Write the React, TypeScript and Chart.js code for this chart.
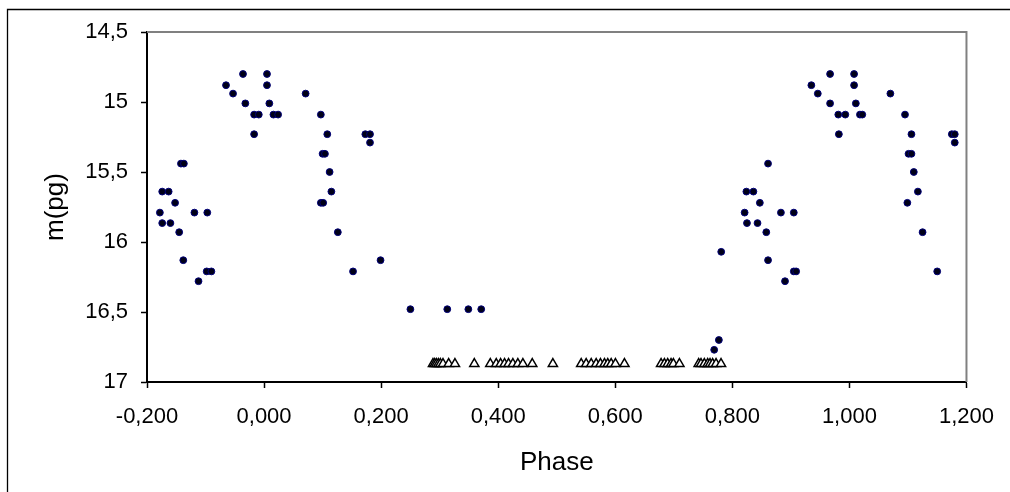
import React, { useEffect, useRef } from "react";
import { Chart, registerables } from "chart.js";

Chart.register(...registerables);

// Detected magnitudes (filled dots)
const phaseDetected = [
  -0.178, -0.174, -0.163, -0.174, -0.160, -0.152, -0.145, -0.142, -0.137, -0.138,
  -0.119, -0.112, -0.097, -0.098, -0.090, -0.065, -0.053, -0.036, -0.032, -0.017,
  -0.009, -0.017, 0.005, 0.005, 0.009, 0.016, 0.024, 0.071, 0.097, 0.108,
  0.100, 0.104, 0.112, 0.115, 0.097, 0.101, 0.126, 0.152, 0.173, 0.181,
  0.181, 0.199, 0.250, 0.313, 0.349, 0.371, 0.769, 0.777, 0.781,
  0.861, 0.824, 0.836, 0.847, 0.821, 0.883, 0.905, 0.825, 0.843, 0.858,
  0.861, 0.890, 0.905, 0.909, 0.935, 0.946, 0.967, 0.967, 0.981, 0.993,
  0.982, 1.008, 1.008, 1.011, 1.018, 1.022, 1.070, 1.095, 1.106, 1.101,
  1.106, 1.110, 1.117, 1.099, 1.125, 1.150, 1.175, 1.180, 1.180,
];
const magDetected = [
  15.79, 15.64, 15.64, 15.865, 15.865, 15.72, 15.93, 15.44, 15.44, 16.13,
  15.79, 16.28, 15.79, 16.21, 16.21, 14.88, 14.94, 14.80, 15.01, 15.09,
  15.09, 15.23, 14.80, 14.88, 15.01, 15.09, 15.09, 14.94, 15.09, 15.23,
  15.37, 15.37, 15.50, 15.64, 15.72, 15.72, 15.93, 16.21, 15.23, 15.23,
  15.29, 16.13, 16.48, 16.48, 16.48, 16.48, 16.77, 16.70, 16.07,
  15.44, 15.64, 15.64, 15.72, 15.79, 15.79, 15.79, 15.865, 15.865, 15.93,
  16.13, 16.28, 16.21, 16.21, 14.88, 14.94, 14.80, 15.01, 15.09, 15.09,
  15.23, 14.80, 14.88, 15.01, 15.09, 15.09, 14.94, 15.09, 15.23, 15.37,
  15.37, 15.50, 15.64, 15.72, 15.93, 16.21, 15.23, 15.23, 15.29,
];

// Upper limits (open triangles)
const phaseLimit = [
  0.2886, 0.2915, 0.2944, 0.2978, 0.3012, 0.3057, 0.3154, 0.3261, 0.3592,
  0.3865, 0.3967, 0.4041, 0.4109, 0.4177, 0.4251, 0.4336, 0.4422, 0.4582,
  0.4934, 0.5418, 0.5503, 0.5589, 0.5674, 0.5747, 0.5816, 0.5872, 0.5930,
  0.6003, 0.6157, 0.6783, 0.6840, 0.6896, 0.6953, 0.6993, 0.7096, 0.7425,
  0.7465, 0.7522, 0.7579, 0.7619, 0.7664, 0.7722, 0.7807,
];
const magLimit = [
  16.87, 16.87, 16.87, 16.87, 16.87, 16.87, 16.87, 16.87, 16.87,
  16.87, 16.87, 16.87, 16.87, 16.87, 16.87, 16.87, 16.87, 16.87,
  16.87, 16.87, 16.87, 16.87, 16.87, 16.87, 16.87, 16.87, 16.87,
  16.87, 16.87, 16.87, 16.87, 16.87, 16.87, 16.87, 16.87, 16.87,
  16.87, 16.87, 16.87, 16.87, 16.87, 16.87, 16.87,
];

const xMin = -0.2;
const xMax = 1.2;
const xStep = 0.2;
const yMin = 14.5;
const yMax = 17;
const yStep = 0.5;
const xTitle = "Phase";
const yTitle = "m(pg)";

const FONT = "'Liberation Sans', Arial, sans-serif";

const framePlugin = {
  id: "frame",
  beforeDraw(chart: any) {
    const ctx = chart.ctx;
    ctx.save();
    ctx.fillStyle = "#ffffff";
    ctx.fillRect(0, 0, chart.width, chart.height);
    ctx.strokeStyle = "#000000";
    ctx.lineWidth = 1.3;
    ctx.beginPath();
    ctx.moveTo(7.5, chart.height + 2);
    ctx.lineTo(7.5, 9.5);
    ctx.lineTo(chart.width + 2, 9.5);
    ctx.stroke();
    ctx.restore();
  },
  beforeDatasetsDraw(chart: any) {
    const { ctx, chartArea } = chart;
    ctx.save();
    ctx.strokeStyle = "#808080";
    ctx.lineWidth = 2;
    ctx.beginPath();
    ctx.moveTo(chartArea.left, chartArea.top);
    ctx.lineTo(chartArea.right, chartArea.top);
    ctx.lineTo(chartArea.right, chartArea.bottom);
    ctx.stroke();
    ctx.restore();
  },
};

function fmtComma(v: number, digits: number) {
  let r = Math.round(v * 1000) / 1000;
  if (Object.is(r, -0) || Math.abs(r) < 1e-9) r = 0;
  return r.toFixed(digits).replace(".", ",");
}

export default function App() {
  const ref = useRef<HTMLCanvasElement | null>(null);

  useEffect(() => {
    document.body.style.margin = "0";
    if (!ref.current) return;
    const detected = phaseDetected.map((x, i) => ({ x, y: magDetected[i] }));
    const limits = phaseLimit.map((x, i) => ({ x, y: magLimit[i] }));
    const chart = new Chart(ref.current, {
      type: "scatter",
      data: {
        datasets: [
          {
            label: "limits",
            data: limits,
            pointStyle: "triangle",
            pointRadius: 5.3,
            pointBackgroundColor: "#ffffff",
            pointBorderColor: "#000000",
            pointBorderWidth: 1.5,
            showLine: false,
          },
          {
            label: "detected",
            data: detected,
            pointStyle: "circle",
            pointRadius: 3.4,
            pointBackgroundColor: "#000018",
            pointBorderColor: "#00007a",
            pointBorderWidth: 1,
            showLine: false,
          },
        ],
      },
      options: {
        animation: false,
        responsive: false,
        devicePixelRatio: 1,
        layout: { padding: { left: 0, top: 32, right: 43, bottom: 0 } },
        plugins: {
          legend: { display: false },
          tooltip: { enabled: false },
        },
        scales: {
          x: {
            type: "linear",
            position: "bottom",
            min: xMin,
            max: xMax,
            ticks: {
              stepSize: xStep,
              color: "#000",
              padding: 16,
              font: { family: FONT, size: 22 },
              callback: (v: any) => fmtComma(Number(v), 3),
            },
            grid: {
              drawOnChartArea: false,
              drawTicks: true,
              tickLength: 6,
              tickWidth: 1.5,
              color: "#000",
            },
            border: { display: true, color: "#000", width: 2 },
            title: {
              display: true,
              text: xTitle,
              color: "#000",
              font: { family: FONT, size: 26 },
              padding: { top: 0, bottom: 14 },
            },
            afterFit: (scale: any) => {
              scale.height = 110;
            },
          },
          y: {
            type: "linear",
            position: "left",
            min: yMin,
            max: yMax,
            reverse: true,
            ticks: {
              stepSize: yStep,
              color: "#000",
              padding: 13,
              font: { family: FONT, size: 22 },
              callback: (v: any) => String(Math.round(Number(v) * 10) / 10).replace(".", ","),
            },
            grid: {
              drawOnChartArea: false,
              drawTicks: true,
              tickLength: 6,
              tickWidth: 1.5,
              color: "#000",
            },
            border: { display: true, color: "#000", width: 2 },
            title: {
              display: true,
              text: yTitle,
              color: "#000",
              font: { family: FONT, size: 26 },
              padding: { top: 40, bottom: 0 },
            },
            afterFit: (scale: any) => {
              scale.width = 147;
            },
          },
        },
      },
      plugins: [framePlugin],
    } as any);
    return () => chart.destroy();
  }, []);

  return (
    <div style={{ position: "fixed", left: 0, top: 0, width: 1010, height: 492, background: "#fff" }}>
      <canvas ref={ref} width={1010} height={492} style={{ width: 1010, height: 492, display: "block" }} />
    </div>
  );
}
